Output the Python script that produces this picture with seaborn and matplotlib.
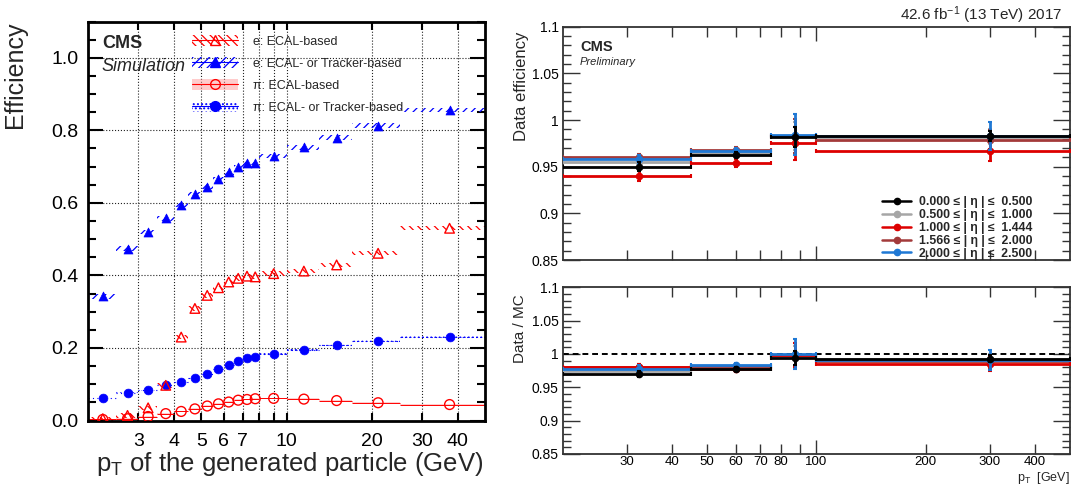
import numpy as np
import pandas as pd
import matplotlib
matplotlib.use("Agg")
import matplotlib.pyplot as plt
import seaborn as sns
from matplotlib.patches import Patch
from matplotlib.lines import Line2D
from matplotlib.ticker import FixedLocator, FuncFormatter, MultipleLocator, NullFormatter

# ---------------- left panel data (simulation) ----------------
gen_pt_edges = [2, 2.5, 3, 3.5, 4, 4.5, 5, 5.5, 6, 6.5, 7, 7.5, 8, 10, 13, 17, 25, 50]
e_ecal = [0.005, 0.014, 0.035, 0.097, 0.230, 0.309, 0.345, 0.366, 0.382, 0.392, 0.398,
          0.396, 0.405, 0.412, 0.429, 0.461, 0.530]
e_ecal_trk = [0.342, 0.474, 0.519, 0.557, 0.594, 0.625, 0.645, 0.666, 0.684, 0.699, 0.709,
              0.710, 0.729, 0.753, 0.780, 0.813, 0.856]
pi_ecal = [0.003, 0.005, 0.011, 0.019, 0.025, 0.032, 0.040, 0.046, 0.051, 0.056, 0.058,
           0.060, 0.061, 0.059, 0.055, 0.049, 0.044]
pi_ecal_trk = [0.062, 0.076, 0.084, 0.097, 0.106, 0.118, 0.128, 0.142, 0.154, 0.164, 0.171,
               0.175, 0.183, 0.195, 0.209, 0.219, 0.230]
left_labels = ["e: ECAL-based", "e: ECAL- or Tracker-based", "\u03c0: ECAL-based",
               "\u03c0: ECAL- or Tracker-based"]
left_xticks = [3, 4, 5, 6, 7, 10, 20, 30, 40]
left_yticks = [0.0, 0.2, 0.4, 0.6, 0.8, 1.0]

# ---------------- right panel data (2017 data) ----------------
tnp_pt_edges = [20, 45, 75, 100, 500]
tnp_pt_centers = [32.5, 60, 87.5, 300]
eta_labels = ["0.000 \u2264 | \u03b7 | \u2264  0.500",
              "0.500 \u2264 | \u03b7 | \u2264  1.000",
              "1.000 \u2264 | \u03b7 | \u2264  1.444",
              "1.566 \u2264 | \u03b7 | \u2264  2.000",
              "2.000 \u2264 | \u03b7 | \u2264  2.500"]
eta_colors = ["#000000", "#a6a6a6", "#dd0000", "#a33a3a", "#1f78d4"]

eff_eta0 = [0.950, 0.963, 0.982, 0.983]
eff_eta1 = [0.955, 0.965, 0.983, 0.982]
eff_eta2 = [0.940, 0.954, 0.975, 0.967]
eff_eta3 = [0.960, 0.968, 0.983, 0.979]
eff_eta4 = [0.958, 0.967, 0.984, 0.983]
efferr_eta0 = [0.005, 0.003, 0.011, 0.005]
efferr_eta1 = [0.004, 0.003, 0.015, 0.008]
efferr_eta2 = [0.005, 0.004, 0.018, 0.011]
efferr_eta3 = [0.004, 0.003, 0.018, 0.010]
efferr_eta4 = [0.005, 0.003, 0.022, 0.015]

sf_eta0 = [0.970, 0.978, 0.994, 0.993]
sf_eta1 = [0.975, 0.981, 0.997, 0.992]
sf_eta2 = [0.980, 0.977, 0.998, 0.985]
sf_eta3 = [0.981, 0.982, 0.998, 0.989]
sf_eta4 = [0.978, 0.984, 1.000, 0.991]
sferr_eta0 = [0.005, 0.003, 0.011, 0.005]
sferr_eta1 = [0.004, 0.003, 0.015, 0.008]
sferr_eta2 = [0.005, 0.004, 0.018, 0.011]
sferr_eta3 = [0.004, 0.003, 0.018, 0.010]
sferr_eta4 = [0.006, 0.003, 0.022, 0.015]
right_xticks = [30, 40, 50, 60, 70, 80, 100, 200, 300, 400]

# ---------------- style ----------------
sns.set_theme(style="ticks")
plt.rcParams["font.family"] = ["Liberation Sans", "DejaVu Sans"]
plt.rcParams["mathtext.default"] = "regular"
plt.rcParams["hatch.linewidth"] = 0.9
plt.rcParams["axes.edgecolor"] = "black"

fig = plt.figure(figsize=(10.74, 4.88), dpi=100)
axL = fig.add_axes([0.0822, 0.1383, 0.3694, 0.8176])
axU = fig.add_axes([0.524, 0.4672, 0.4723, 0.4781])
axD = fig.add_axes([0.524, 0.0697, 0.4723, 0.3416])

# ---------------- left panel ----------------
edges = np.array(gen_pt_edges, dtype=float)
lo, hi = edges[:-1], edges[1:]
wid = hi - lo
ctr = 0.5 * (lo + hi)

axL.set_xscale("log")
axL.set_xlim(2, 50)
axL.set_ylim(0, 1.1)

# uncertainty bands
bw = 0.006
axL.bar(lo, 2 * bw, width=wid, bottom=np.array(e_ecal) - bw, align="edge",
        facecolor="none", edgecolor="red", hatch="\\\\\\\\", linewidth=0, zorder=2)
axL.bar(lo, 2 * bw, width=wid, bottom=np.array(e_ecal_trk) - bw, align="edge",
        facecolor="none", edgecolor="blue", hatch="////", linewidth=0, zorder=2)
axL.bar(lo, 0.004, width=wid, bottom=np.array(pi_ecal) - 0.002, align="edge",
        facecolor="#ff9a9a", alpha=0.5, edgecolor="none", linewidth=0, zorder=2)
axL.hlines(pi_ecal, lo, hi, color="red", lw=0.7, zorder=2)
axL.bar(lo, 0.006, width=wid, bottom=np.array(pi_ecal_trk) - 0.003, align="edge",
        facecolor="none", edgecolor="blue", hatch="....", linewidth=0, zorder=2)
axL.hlines(pi_ecal_trk, lo, hi, color="blue", lw=0.8, ls=(0, (1, 3)), zorder=2)

# markers
sns.scatterplot(x=ctr, y=e_ecal_trk, marker="^", color="blue", s=42, edgecolor="blue",
                linewidth=0.5, ax=axL, legend=False, zorder=4)
sns.scatterplot(x=ctr, y=pi_ecal_trk, marker="o", color="blue", s=40, edgecolor="blue",
                linewidth=0.5, ax=axL, legend=False, zorder=4)
axL.scatter(ctr, e_ecal, marker="^", s=48, facecolors="none", edgecolors="red",
            linewidths=1.0, zorder=5)
axL.scatter(ctr, pi_ecal, marker="o", s=50, facecolors="none", edgecolors="red",
            linewidths=1.0, zorder=5)

axL.xaxis.set_major_locator(FixedLocator(left_xticks))
axL.xaxis.set_major_formatter(FuncFormatter(lambda v, p: f"{v:g}"))
axL.xaxis.set_minor_locator(FixedLocator([8, 9]))
axL.xaxis.set_minor_formatter(NullFormatter())
axL.yaxis.set_major_locator(FixedLocator(left_yticks))
axL.yaxis.set_major_formatter(FuncFormatter(lambda v, p: f"{v:.1f}"))
axL.yaxis.set_minor_locator(MultipleLocator(0.05))
axL.grid(True, which="both", axis="x", ls=":", color="#222222", lw=0.8)
axL.grid(True, which="major", axis="y", ls=":", color="#222222", lw=0.8)
axL.tick_params(which="both", direction="in", top=True, right=True, width=1.5,
                colors="black", labelsize=14)
axL.tick_params(which="major", axis="y", length=11, pad=7)
axL.tick_params(which="minor", axis="y", length=6)
axL.tick_params(which="major", axis="x", length=6, pad=9)
axL.tick_params(which="minor", axis="x", length=6)
for sp in axL.spines.values():
    sp.set_linewidth(2)
axL.set_xlabel("")
axL.set_ylabel("")
axL.text(0.995, -0.126, "p$_T$ of the generated particle (GeV)", transform=axL.transAxes,
         ha="right", va="baseline", fontsize=18.5)
axL.text(-0.185, 1.0, "Efficiency", transform=axL.transAxes, rotation=90,
         ha="center", va="top", fontsize=18)
axL.text(0.0345, 0.944, "CMS", transform=axL.transAxes, ha="left", va="center",
         fontsize=13, fontweight="bold")
axL.text(0.0345, 0.887, "Simulation", transform=axL.transAxes, ha="left", va="center",
         fontsize=13, fontstyle="italic")

h_e_ecal = (Patch(facecolor="none", edgecolor="red", hatch="\\\\\\\\", linewidth=0),
            Line2D([], [], color="red", lw=0.8, marker="^", mfc="none", mec="red", ms=7))
h_e_trk = (Patch(facecolor="none", edgecolor="blue", hatch="////", linewidth=0),
           Line2D([], [], color="blue", lw=0.8, marker="^", mfc="blue", mec="blue", ms=7))
h_pi_ecal = (Patch(facecolor="#ff9a9a", alpha=0.5, edgecolor="none"),
             Line2D([], [], color="red", lw=0.8, marker="o", mfc="none", mec="red", ms=7))
h_pi_trk = (Patch(facecolor="none", edgecolor="blue", hatch="....", linewidth=0),
            Line2D([], [], color="blue", lw=0.8, marker="o", mfc="blue", mec="blue", ms=7))
axL.legend([h_e_ecal, h_e_trk, h_pi_ecal, h_pi_trk], left_labels, loc="upper left",
           bbox_to_anchor=(0.261, 0.966), frameon=False, fontsize=9, handlelength=3.7,
           handleheight=1.0, handletextpad=1.2, labelspacing=0.72, borderpad=0,
           borderaxespad=0)

# ---------------- right panels ----------------
redges = np.array(tnp_pt_edges, dtype=float)
rc = np.array(tnp_pt_centers, dtype=float)
xerr = [rc - redges[:-1], redges[1:] - rc]
effs = [eff_eta0, eff_eta1, eff_eta2, eff_eta3, eff_eta4]
efferrs = [efferr_eta0, efferr_eta1, efferr_eta2, efferr_eta3, efferr_eta4]
sfs = [sf_eta0, sf_eta1, sf_eta2, sf_eta3, sf_eta4]
sferrs = [sferr_eta0, sferr_eta1, sferr_eta2, sferr_eta3, sferr_eta4]
draw_order = [1, 3, 2, 4, 0]

for ax, vals, errs in [(axU, effs, efferrs), (axD, sfs, sferrs)]:
    ax.set_xscale("log")
    ax.set_xlim(20, 500)
    ax.set_ylim(0.85, 1.1)
    for z, i in enumerate(draw_order):
        col = eta_colors[i]
        ax.errorbar(rc, vals[i], xerr=xerr, yerr=errs[i], fmt="none", ecolor=col,
                    elinewidth=2.0, capsize=1.5, capthick=1.5, zorder=3 + z)
        sns.scatterplot(x=rc, y=vals[i], color=col, s=30, edgecolor=col, linewidth=0,
                        ax=ax, legend=False, zorder=3.5 + z)
    ax.yaxis.set_major_locator(MultipleLocator(0.05))
    ax.yaxis.set_minor_locator(MultipleLocator(0.01))
    ax.yaxis.set_major_formatter(FuncFormatter(lambda v, p: f"{v:.3g}"))
    ax.xaxis.set_major_locator(FixedLocator([100]))
    ax.xaxis.set_minor_locator(FixedLocator([30, 40, 50, 60, 70, 80, 90, 200, 300, 400]))
    ax.tick_params(which="both", direction="in", top=True, right=True, width=1.0,
                   colors="#333333", labelcolor="black", labelsize=10)
    ax.tick_params(which="major", axis="y", length=12, pad=3)
    ax.tick_params(which="minor", axis="y", length=6)
    ax.tick_params(which="major", axis="x", length=10, pad=1.5, labelsize=9.5)
    ax.tick_params(which="minor", axis="x", length=7, pad=1.5, labelsize=9.5)
    for sp in ax.spines.values():
        sp.set_linewidth(1.3)
        sp.set_color("#333333")
    ax.set_xlabel("")
    ax.set_ylabel("")

axU.xaxis.set_major_formatter(NullFormatter())
axU.xaxis.set_minor_formatter(NullFormatter())
axD.xaxis.set_major_formatter(FuncFormatter(lambda v, p: f"{v:g}"))
axD.xaxis.set_minor_formatter(
    FuncFormatter(lambda v, p: f"{v:g}" if round(v) in right_xticks else ""))
axD.axhline(1.0, color="black", lw=1.4, ls=(0, (3, 2)), zorder=2)

axU.text(-0.082, 0.981, "Data efficiency", transform=axU.transAxes, rotation=90,
         ha="center", va="top", fontsize=12)
axD.text(-0.084, 0.96, "Data / MC", transform=axD.transAxes, rotation=90,
         ha="center", va="top", fontsize=11)
axD.text(1.0, -0.162, "p$_T$  [GeV]", transform=axD.transAxes, ha="right",
         va="baseline", fontsize=9)
axU.text(0.034, 0.914, "CMS", transform=axU.transAxes, ha="left", va="center",
         fontsize=10.5, fontweight="bold")
axU.text(0.034, 0.847, "Preliminary", transform=axU.transAxes, ha="left", va="center",
         fontsize=8, fontstyle="italic")
fig.text(0.9888, 0.959, "42.6 fb$^{-1}$ (13 TeV) 2017", ha="right", va="baseline",
         fontsize=11)

leg_handles = [Line2D([], [], color=c, lw=1.8, marker="o", ms=4.5) for c in eta_colors]
axU.legend(leg_handles, eta_labels, loc="upper left", bbox_to_anchor=(0.629, 0.275),
           frameon=False, handlelength=2.4, handletextpad=0.6, labelspacing=0.08,
           borderpad=0, borderaxespad=0,
           prop={"size": 8.8, "weight": "bold", "family": ["Liberation Sans", "DejaVu Sans"]})

fig.savefig("out.png", dpi=100)
